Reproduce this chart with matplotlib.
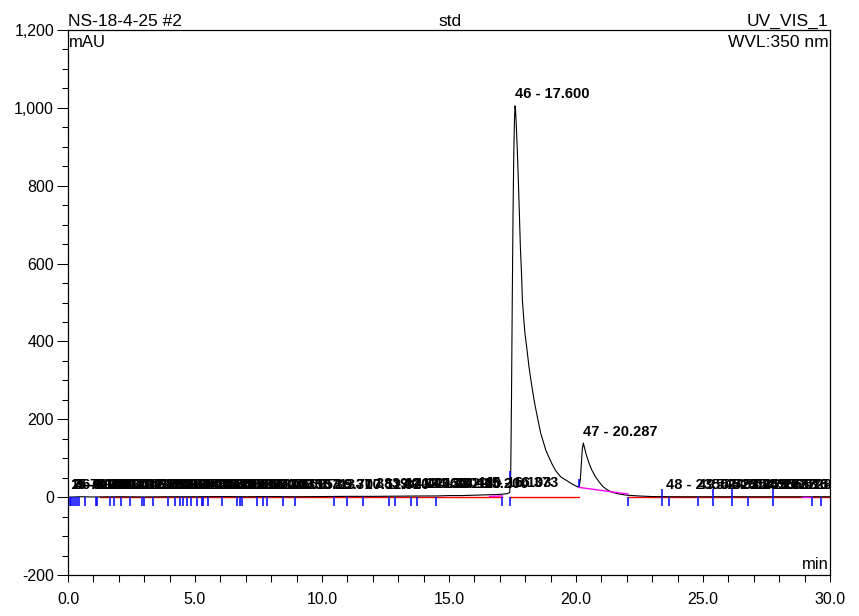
import numpy as np
import matplotlib
matplotlib.use("Agg")
import matplotlib.pyplot as plt
from matplotlib.ticker import MultipleLocator, FuncFormatter

plt.rcParams['font.family'] = ['Liberation Sans', 'DejaVu Sans']

# chromatogram trace (min, mAU)
time = [0.0, 0.5, 1.0, 2.0, 3.0, 4.0, 5.0, 6.0, 7.0, 8.0, 9.0, 10.0, 11.0, 12.0,
        13.0, 14.0, 14.5, 15.0, 15.5, 16.0, 16.5, 17.0, 17.30, 17.39, 17.43, 17.46,
        17.49, 17.52, 17.55, 17.58, 17.60, 17.62, 17.65, 17.69, 17.73, 17.77, 17.81,
        17.85, 17.89, 17.94, 17.99, 18.05, 18.15, 18.25, 18.35, 18.45, 18.61, 18.70,
        18.81, 18.95, 19.05, 19.20, 19.40, 19.60, 19.79, 19.95, 20.09, 20.13, 20.17,
        20.21, 20.25, 20.29, 20.33, 20.40, 20.51, 20.62, 20.77, 20.90, 21.05, 21.22,
        21.40, 21.69, 22.0, 22.48, 23.0, 24.0, 25.0, 26.0, 27.0, 28.0, 29.0, 30.0]
signal = [0.0, 1.0, 0.5, 1.0, 0.5, 1.0, 1.0, 1.5, 1.0, 1.5, 1.0, 1.5, 2.0, 2.0,
          2.5, 3.0, 3.0, 4.0, 4.0, 5.0, 6.0, 7.0, 9.0, 12.0, 60.0, 250.0,
          500.0, 720.0, 880.0, 975.0, 1005.0, 995.0, 955.0, 890.0, 814.0, 730.0, 642.0,
          583.0, 506.0, 460.0, 421.0, 390.0, 334.0, 290.0, 249.0, 215.0, 164.0, 145.0,
          121.0, 100.0, 86.0, 68.0, 52.0, 44.0, 36.0, 30.0, 26.0, 28.0, 45.0,
          85.0, 125.0, 139.0, 128.0, 110.0, 88.0, 70.0, 52.0, 40.0, 28.0, 19.0,
          13.0, 8.0, 5.0, 3.0, 1.5, 1.0, 1.0, 1.0, 1.0, 1.0, 1.0, 1.0]

# integrated peaks: number and retention time
peak_no = list(range(1, 58))
peak_rt = [0.100, 0.160, 0.220, 0.300, 0.390, 0.553, 0.880, 1.120, 1.400, 1.733,
           1.953, 2.267, 2.673, 2.953, 3.180, 3.653, 4.080, 4.313, 4.473, 4.600,
           4.753, 4.953, 5.173, 5.300, 5.433, 5.780, 6.360, 6.720, 6.800, 7.133,
           7.560, 7.753, 8.153, 8.713, 9.707, 10.527, 11.320, 12.140, 12.760, 13.180,
           13.620, 14.120, 15.200, 16.103, 16.373, 17.600, 20.287, 23.543, 24.813, 25.347,
           25.693, 26.197, 26.563, 27.013, 27.627, 28.250, 29.027]

# peak delimiters (blue marks)
delim_rt = [0.08, 0.12, 0.19, 0.26, 0.34, 0.43, 0.67, 1.09, 1.15, 1.65, 1.82, 2.09,
            2.44, 2.90, 3.00, 3.36, 3.95, 4.21, 4.41, 4.54, 4.67, 4.84, 5.07, 5.26,
            5.33, 5.52, 6.05, 6.67, 6.77, 6.84, 7.43, 7.69, 7.82, 8.48, 8.94, 10.48,
            11.00, 11.63, 12.65, 12.87, 13.49, 13.75, 14.49, 17.10, 17.42, 22.05,
            23.39, 23.66, 24.80, 25.39, 26.14, 26.77, 27.76, 29.29, 29.65]
delim_up_rt = [17.42, 20.12, 23.39, 25.39, 26.14, 27.76]

# baselines
red_base = [(1.25, 17.10), (17.42, 20.12), (22.05, 28.9), (29.3, 30.0)]
magenta_base = [((16.60, 17.10), (2.0, 3.0)), ((20.12, 22.05), (25.0, 8.0)),
                ((28.9, 29.3), (0.5, 0.5))]

fig = plt.figure(figsize=(8.59, 6.16), dpi=100)
ax = fig.add_axes([68 / 859, 41 / 616, 762 / 859, 545 / 616])

ax.plot(time, signal, color='black', lw=0.8, zorder=3)

for x0, x1 in red_base:
    ax.plot([x0, x1], [0, 0], color='#ff0000', lw=1.0, zorder=2)
for xs, ys in magenta_base:
    ax.plot(xs, ys, color='#ff00ff', lw=1.0, zorder=4)

ax.vlines(delim_rt, -22, 1, color='#0000ff', lw=1.1, zorder=4)
up_base = np.interp(delim_up_rt, time, signal)
ax.vlines(delim_up_rt, up_base - 2, up_base + 20, color='#0000ff', lw=1.1, zorder=4)

apex = np.interp(peak_rt, time, signal)
for n, rt, h in zip(peak_no, peak_rt, apex):
    t = ax.annotate(f"{n} - {rt:.3f}", xy=(rt, h), xytext=(0, 3.5),
                    textcoords='offset points', ha='left', va='bottom',
                    fontsize=10.5, fontweight='bold', color='black', zorder=5)
    t.set_clip_path(ax.patch)

ax.set_xlim(0, 30)
ax.set_ylim(-200, 1200)
ax.xaxis.set_major_locator(MultipleLocator(5))
ax.xaxis.set_minor_locator(MultipleLocator(1))
ax.yaxis.set_major_locator(MultipleLocator(200))
ax.yaxis.set_minor_locator(MultipleLocator(50))
ax.xaxis.set_major_formatter(FuncFormatter(lambda v, p: f"{v:.1f}"))
ax.yaxis.set_major_formatter(FuncFormatter(lambda v, p: f"{v:,.0f}"))

ax.tick_params(axis='both', which='both', direction='out', width=0.75,
               labelsize=11.5, colors='black')
ax.tick_params(axis='y', which='major', length=8, pad=2)
ax.tick_params(axis='y', which='minor', length=4)
ax.tick_params(axis='x', which='major', length=5, pad=7)
ax.tick_params(axis='x', which='minor', length=5)
for s in ax.spines.values():
    s.set_linewidth(0.9)

ax.annotate("NS-18-4-25 #2", xy=(0, 1), xycoords='axes fraction', xytext=(0, 3),
            textcoords='offset points', ha='left', va='baseline', fontsize=12.5)
ax.annotate("std", xy=(0.5, 1), xycoords='axes fraction', xytext=(1, 3),
            textcoords='offset points', ha='center', va='baseline', fontsize=12.5)
ax.annotate("UV_VIS_1", xy=(1, 1), xycoords='axes fraction', xytext=(-1, 3),
            textcoords='offset points', ha='right', va='baseline', fontsize=12.5)
ax.annotate("mAU", xy=(0, 1), xycoords='axes fraction', xytext=(1, -12),
            textcoords='offset points', ha='left', va='baseline', fontsize=12)
ax.annotate("WVL:350 nm", xy=(1, 1), xycoords='axes fraction', xytext=(-1, -12),
            textcoords='offset points', ha='right', va='baseline', fontsize=12.5)
ax.annotate("min", xy=(1, 0), xycoords='axes fraction', xytext=(-1, 4),
            textcoords='offset points', ha='right', va='baseline', fontsize=12)

fig.savefig("out.png", dpi=100)
